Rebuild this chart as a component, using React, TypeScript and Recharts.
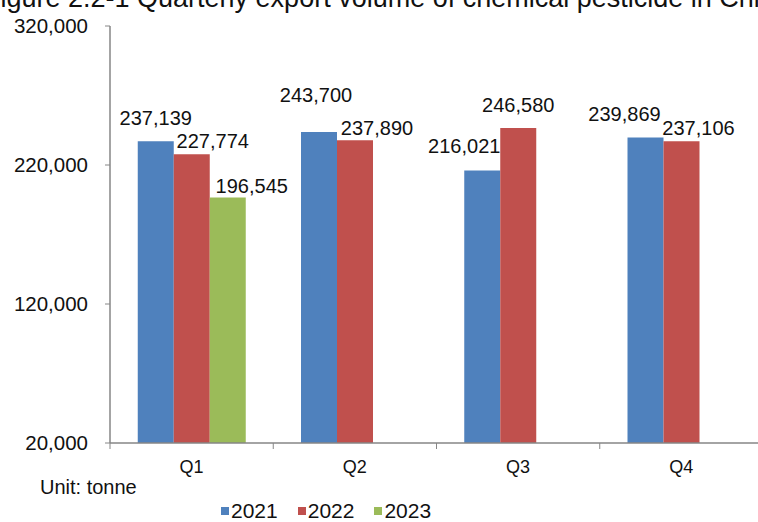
import React from 'react';
import { BarChart, Bar, XAxis, YAxis, Legend, LabelList } from 'recharts';

const quarters = ['Q1', 'Q2', 'Q3', 'Q4'];
const volume2021 = [237139, 243700, 216021, 239869];
const volume2022 = [227774, 237890, 246580, 237106];
const volume2023: (number | null)[] = [196545, null, null, null];
const yTicks = [20000, 120000, 220000, 320000];
const seriesNames = ['2021', '2022', '2023'];
const titleText = 'Figure 2.2-1 Quarterly export volume of chemical pesticide in China';
const unitText = 'Unit: tonne';

const data = quarters.map((q, i) => ({
  quarter: q,
  y2021: volume2021[i],
  y2022: volume2022[i],
  y2023: volume2023[i],
}));

const COLORS: Record<string, string> = { '2021': '#4F81BD', '2022': '#C0504D', '2023': '#9BBB59' };
const FONT = '"Liberation Sans", Arial, Helvetica, sans-serif';
const AXIS = '#868686';
const TEXT = '#111111';

// label placement tweaks (style): [horizontal shift, gap above bar top]
const labelPlacement: Record<string, number[][]> = {
  '2021': [[0, 16], [-3, 30], [-18, 18], [-21, 16]],
  '2022': [[21, 6], [22, 5], [0, 16], [17, 6]],
  '2023': [[24, 5], [0, 5], [0, 5], [0, 5]],
};

const fmt = (v: number) => Number(v).toLocaleString('en-US');

const makeLabel = (series: string) => (props: any) => {
  const { x, y, width, value, index } = props;
  if (value == null || value === '') return null;
  const [dx, gap] = labelPlacement[series][index] || [0, 5];
  return (
    <text
      x={Number(x) + Number(width) / 2 + dx}
      y={Number(y) - gap}
      textAnchor="middle"
      fontSize={20}
      fontFamily={FONT}
      fill={TEXT}
    >
      {fmt(value)}
    </text>
  );
};

const XTick = (props: any) => {
  const { x, y, payload, index, visibleTicksCount } = props;
  const half = payload && payload.offset ? payload.offset : 81.6;
  const last = index === (visibleTicksCount ?? quarters.length) - 1;
  return (
    <g>
      <line x1={x - half} x2={x - half} y1={y} y2={y + 6} stroke={AXIS} strokeWidth={1} />
      {last && <line x1={x + half} x2={x + half} y1={y} y2={y + 6} stroke={AXIS} strokeWidth={1} />}
      <text x={x} y={y + 30} textAnchor="middle" fontSize={18} fontFamily={FONT} fill={TEXT}>
        {payload.value}
      </text>
    </g>
  );
};

const LegendContent = () => (
  <div style={{ display: 'flex', fontFamily: FONT, fontSize: 21, lineHeight: '18px', color: TEXT }}>
    {seriesNames.map((s) => (
      <div key={s} style={{ display: 'flex', alignItems: 'center', marginRight: 20 }}>
        <span style={{ display: 'inline-block', width: 8, height: 8, background: COLORS[s], marginRight: 2 }} />
        <span>{s}</span>
      </div>
    ))}
  </div>
);

export default function App() {
  return (
    <div style={{ position: 'absolute', left: 0, top: 0, width: 758, height: 522, background: '#fff', overflow: 'hidden' }}>
      <BarChart
        width={758}
        height={522}
        data={data}
        margin={{ top: 26, right: -5, bottom: 0, left: 0 }}
        barCategoryGap="17%"
        barGap={0}
      >
        <text x={-16} y={7} fontSize={27} fontFamily={FONT} fill={TEXT}>
          {titleText}
        </text>
        <text x={40} y={494} fontSize={20} fontFamily={FONT} fill={TEXT}>
          {unitText}
        </text>
        <XAxis
          dataKey="quarter"
          height={79}
          axisLine={{ stroke: AXIS, strokeWidth: 1.5 }}
          tickLine={false}
          tickSize={0}
          tickMargin={0}
          tick={<XTick />}
          interval={0}
        />
        <YAxis
          width={110}
          domain={[20000, 320000]}
          ticks={yTicks}
          interval={0}
          tickFormatter={fmt}
          axisLine={{ stroke: AXIS, strokeWidth: 1.5 }}
          tickLine={{ stroke: AXIS }}
          tickSize={5}
          tickMargin={17}
          tick={{ fontSize: 20.5, fontFamily: FONT, fill: TEXT }}
        />
        <Legend
          layout="horizontal"
          verticalAlign="middle"
          align="center"
          content={<LegendContent />}
          wrapperStyle={{ top: 502, left: 221, width: 'auto', height: 18 }}
        />
        <Bar dataKey="y2021" name="2021" fill={COLORS['2021']} isAnimationActive={false}>
          <LabelList dataKey="y2021" content={makeLabel('2021')} />
        </Bar>
        <Bar dataKey="y2022" name="2022" fill={COLORS['2022']} isAnimationActive={false}>
          <LabelList dataKey="y2022" content={makeLabel('2022')} />
        </Bar>
        <Bar dataKey="y2023" name="2023" fill={COLORS['2023']} isAnimationActive={false}>
          <LabelList dataKey="y2023" content={makeLabel('2023')} />
        </Bar>
      </BarChart>
    </div>
  );
}
